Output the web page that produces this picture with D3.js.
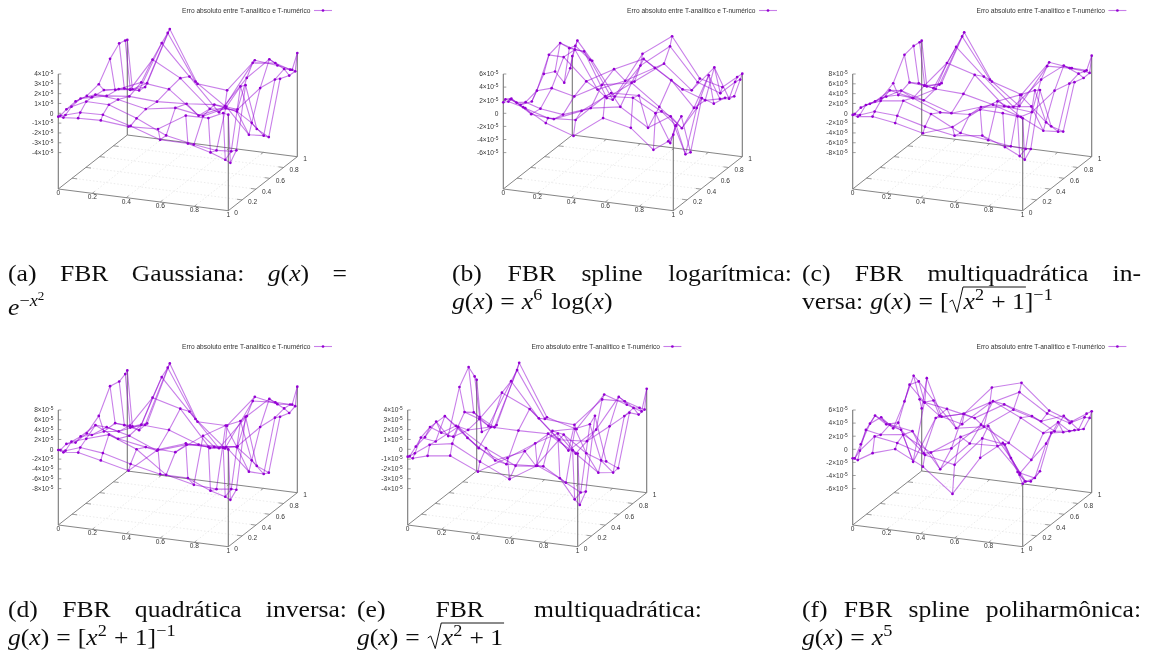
<!DOCTYPE html>
<html>
<head>
<meta charset="utf-8">
<script src="https://d3js.org/d3.v7.min.js"></script>
<style>
  html, body { margin: 0; padding: 0; background: #fff; }
  svg { display: block; }
  .tick { font-family: "Liberation Sans", sans-serif; font-size: 6.6px; fill: #333; }
  .cap { font-family: "Liberation Serif", serif; fill: #111; }
</style>
</head>
<body>
<svg width="1158" height="656"></svg>
<script>
var width = 1158;
var height = 656;

// grid nodes, the same along x and y
var nodes = [0, 0.03, 0.117, 0.25, 0.413, 0.587, 0.75, 0.883, 0.97, 1];
var xTicks = [0, 0.2, 0.4, 0.6, 0.8, 1];
var yTicks = [0, 0.2, 0.4, 0.6, 0.8, 1];
var legendText = 'Erro absoluto entre T-analítico e T-numérico';

// z tick marks, in units of 10^-5
var zTicks4 = [4, 3, 2, 1, 0, -1, -2, -3, -4];
var zTicks6 = [6, 4, 2, 0, -2, -4, -6];
var zTicks8 = [8, 6, 4, 2, 0, -2, -4, -6, -8];

// error values in units of 10^-5, one row per y node
var zGauss = [
  [-.34,-.37,-.24,-.17,-.44,-.3,1.42,1.46,2.17,2.07],
  [-.41,-.27,.17,.24,-.54,-1.56,-1.59,-2.2,-2.75,-3],
  [-.24,.1,.81,.78,-.24,-1.6,-2.17,-2.47,-2.37,-2.2],
  [-.17,.2,.78,.58,-.03,.47,0,1.1,3.5,3.7],
  [-.5,-.58,-.24,0,-.17,0,.27,-.13,-1.1,-1.66],
  [-.27,-.8,-.5,.47,.14,-2.17,-.9,-3.46,-3.36,-3.44],
  [1.42,-1.66,-1.46,1.9,.37,-2.37,-2.07,.4,1.46,1.6],
  [2.27,-2.24,-2.27,2.85,-.2,-3.46,.4,2.6,1.8,1.2],
  [2.07,-2.88,-2.4,3.4,-1.19,-3.3,1.46,1.73,1.25,1.15],
  [1.97,-2.98,-2.17,3.63,-1.59,-1.86,1.56,1.32,1.08,2.85]
];
var zSplineLog = [
  [1.68,1.89,1.33,-.66,-2.09,1.22,.26,-2.65,-1.07,.05],
  [1.89,1.99,.92,-.15,.1,4.29,4.6,2.7,-1.58,1.17],
  [1.27,.77,-.71,-1.02,.77,4.08,4.23,2.24,.36,1.89],
  [-.77,-.26,-.97,-1.43,.1,.87,-1.79,.41,-5.1,-4.7],
  [-1.6,.15,.82,0,2.3,3.2,.05,-2.76,.6,2.24],
  [1.17,4.18,4.13,.87,3.27,5.4,2.7,-1.1,4.18,-.05],
  [.2,4.64,3.93,-1.73,.15,2.7,-.05,-1.28,-.77,-.5],
  [-2.6,2.76,2.55,-4.13,-1.07,2.24,-1.28,2.65,-1.84,-1.38],
  [-1.12,2.4,.56,-5.1,.66,4.18,-.77,-2,0,.46],
  [.5,2.96,.15,-4.85,2.2,5.46,-.46,-1.33,.5,1.12]
];
var zMultiInv = [
  [-.34,-.54,-.14,-.88,-2.24,-.2,4.07,3.93,3.66,3.4],
  [-.47,-.54,.54,.27,-1.22,-2.3,-1.56,-3.3,-4.75,-5.36],
  [-.14,.54,1.76,2.37,.4,-2.7,-3.46,-4.1,-4.27,-4.14],
  [-.81,-.2,2.44,1.5,-.75,-.4,3,4.9,6.2,6.4],
  [-1.5,-1,.6,-.8,-2.7,-.68,.07,.75,-2.1,-2.78],
  [-.34,-2.6,-2.85,-.4,-.68,-2.1,-3.86,-6.1,-5.9,-5.76],
  [3.66,-1.83,-2.1,3.1,1.42,-4.2,-4.7,.27,2.1,2.5],
  [4,-3.46,-4.07,4.9,-.4,-5.8,.47,3.9,2.64,1.9],
  [3.8,-4.9,-4.3,6.1,-2,-6.6,2.24,2.44,2.17,1.97],
  [3.8,-5.4,-4.34,6.6,-2.7,-4.6,2.7,2.1,2.03,5.15]
];
var zQuadInv = [
  [-.14,-.48,-.14,-1.16,-2.53,2.53,4.5,4.4,4.6,4.4],
  [-.48,-.48,.55,0,-1.5,-2.8,-2.88,-4.86,-5.7,-6.2],
  [-.2,.4,1.37,2.8,.55,-3.9,-5.2,-5.5,-5.1,-5.1],
  [-1.37,0,2.67,.48,-.48,-.75,3.3,6,7.3,8.3],
  [-1.3,-1.5,.48,-.68,-3,-1,-.75,-.2,-2.5,-3.5],
  [.34,-2.7,-2.3,-.34,-.68,-2.9,-2.67,-7.1,-7.2,-6.8],
  [4.6,-2.8,-2.9,3.36,1.85,-5.4,-4.3,.2,2.47,2.8],
  [4.1,-4.66,-5.3,6.1,-.2,-6.9,.34,4.45,2.9,2.1],
  [4.66,-6.1,-5.2,7.05,-2.67,-7.9,2.47,2.8,2.74,2.53],
  [5.07,-6.2,-5.2,7.6,-3.56,-3.6,3,2.1,2.4,6.17]
];
var zMulti = [
  [-.75,-.85,-.41,-.1,-1.37,.41,2.26,3.56,2.05,1.78],
  [-.85,-.51,.55,.96,-.51,-1.91,-.17,-1.16,-3.11,-3.62],
  [-.38,.62,.41,2.19,.38,-1.03,-.72,-2.09,-2.9,-2.74],
  [-.14,.96,2.26,.34,-1.6,-.27,2.15,2.67,3.32,4.24],
  [.55,-.51,.38,-1.6,-2.87,-2.67,.89,-.72,-1.26,-1.3],
  [-1.88,-1.88,-1,-.41,-.41,-.34,-2,-3.66,-3.45,-2.94],
  [2.22,-.27,-.79,2.19,.89,-1.85,-1.64,.17,1.4,1.81],
  [3.52,-1.03,-2.22,2.63,-.79,-3.69,-1.2,2.43,1.5,.89],
  [2.09,-2,-2.84,3.28,-1.33,-1.54,1.4,1.5,1.03,.92],
  [1.57,-3.66,-2.77,3.86,-1.33,-2.15,1.74,.99,.5,2.87]
];
var zPoly = [
  [-1.38,-1.54,-.2,.87,-1.28,-4.87,1.18,3.9,-.25,-1.95],
  [-1.64,-.36,2.1,1.54,.26,-.67,3.9,3.4,-.92,-1.85],
  [-.2,2.1,1.64,2.1,-.1,2.87,5.08,.62,-2.67,-2.56],
  [1.85,3.18,2.1,1.54,-3.74,.77,.92,-2.77,-3.23,-2.1],
  [1.49,.51,-.05,-3.18,-1.9,2.3,.05,-2.1,.67,2.41],
  [-1.64,-.67,-6.36,.77,1.95,4.46,2.46,.56,2.51,1.08],
  [1.13,3.79,1.38,.82,-.05,2.62,1.38,-.51,-.2,.05],
  [3.95,3.18,.56,-3.23,-2.46,.72,-.51,.77,-1.08,-.87],
  [-.36,-.77,-2.5,-3.33,.41,2.67,-.05,-1.08,.1,.1],
  [-2,2.72,-2.87,-2,2.56,3.85,.15,-1.08,.41,.87]
];

var panels = [
  {z: zGauss,     ticks: zTicks4, ox: 58.3,  oy: 189, legendY: 10.5},
  {z: zSplineLog, ticks: zTicks6, ox: 503.3, oy: 189, legendY: 10.5},
  {z: zMultiInv,  ticks: zTicks8, ox: 852.7, oy: 189, legendY: 10.5},
  {z: zQuadInv,   ticks: zTicks8, ox: 58.3,  oy: 525, legendY: 346.5},
  {z: zMulti,     ticks: zTicks4, ox: 407.7, oy: 525, legendY: 346.5},
  {z: zPoly,      ticks: zTicks6, ox: 852.7, oy: 525, legendY: 346.5}
];

var wireColor = '#9400d3';

var svg = d3.select('svg');
var defs = svg.append('defs');
defs.append('filter').attr('id', 'soft')
    .append('feGaussianBlur').attr('stdDeviation', 0.4);
defs.append('filter').attr('id', 'softCap')
    .append('feGaussianBlur').attr('stdDeviation', 0.3);

// oblique view of the unit square
var xAcross = d3.scaleLinear().domain([0, 1]).range([0, 170]);
var xDown = d3.scaleLinear().domain([0, 1]).range([0, 21.7]);
var yAcross = d3.scaleLinear().domain([0, 1]).range([0, 69]);
var yDown = d3.scaleLinear().domain([0, 1]).range([0, -54]);

function drawPanel(p) {
  var g = svg.append('g').attr('filter', 'url(#soft)');
  var zTop = d3.max(p.ticks);
  var zScale = d3.scaleLinear().domain([0, zTop]).range([-75.7, -115]);
  var sx = (x, y) => p.ox + xAcross(x) + yAcross(y);
  var floorY = (x, y) => p.oy + xDown(x) + yDown(y);
  var sy = (x, y, z) => floorY(x, y) + zScale(z);

  function seg(x1, y1, x2, y2, stroke, w, dash) {
    g.append('line')
      .attr('x1', sx(x1, y1)).attr('y1', floorY(x1, y1))
      .attr('x2', sx(x2, y2)).attr('y2', floorY(x2, y2))
      .attr('stroke', stroke).attr('stroke-width', w)
      .attr('stroke-dasharray', dash || null);
  }

  // floor grid
  xTicks.slice(1, -1).forEach(t => seg(t, 0, t, 1, '#ddd', 0.6, '1.5,2'));
  yTicks.slice(1, -1).forEach(t => seg(0, t, 1, t, '#ddd', 0.6, '1.5,2'));

  // floor border
  seg(0, 0, 1, 0, '#777', 0.9);
  seg(1, 0, 1, 1, '#777', 0.9);
  seg(0, 0, 0, 1, '#777', 0.9);
  seg(0, 1, 1, 1, '#777', 0.9);
  xTicks.slice(1, -1).forEach(t => {
    seg(t, 0, t, 0.035, '#777', 0.7);
    seg(t, 1, t, 0.965, '#777', 0.7);
  });
  yTicks.slice(1, -1).forEach(t => {
    seg(0, t, 0.03, t, '#777', 0.7);
    seg(1, t, 0.97, t, '#777', 0.7);
  });

  // verticals: full z axis at the origin, up to the surface at the other corners
  var last = nodes.length - 1;
  var corners = [[0, 0, zTop], [1, 0, p.z[0][last]], [0, 1, p.z[last][0]], [1, 1, p.z[last][last]]];
  corners.forEach(c => {
    g.append('line')
      .attr('x1', sx(c[0], c[1])).attr('y1', floorY(c[0], c[1]))
      .attr('x2', sx(c[0], c[1])).attr('y2', sy(c[0], c[1], c[2]))
      .attr('stroke', '#777').attr('stroke-width', 1.1);
  });

  // z ticks and labels
  p.ticks.forEach(t => {
    g.append('line')
      .attr('x1', p.ox).attr('x2', p.ox + 3)
      .attr('y1', sy(0, 0, t)).attr('y2', sy(0, 0, t))
      .attr('stroke', '#777').attr('stroke-width', 0.7);
    var label = g.append('text').attr('class', 'tick')
      .attr('text-anchor', 'end')
      .attr('x', p.ox - 5).attr('y', sy(0, 0, t) + 2.3);
    if (t === 0) {
      label.text('0');
    } else {
      label.append('tspan').text((t < 0 ? '-' : '') + Math.abs(t) + '×10');
      label.append('tspan').attr('dy', -2).style('font-size', '4.8px').text('-5');
    }
  });

  // x and y tick labels
  xTicks.forEach(t => {
    g.append('text').attr('class', 'tick')
      .attr('text-anchor', 'middle')
      .attr('x', sx(t, 0)).attr('y', floorY(t, 0) + 6)
      .text(t);
  });
  yTicks.forEach(t => {
    g.append('text').attr('class', 'tick')
      .attr('x', sx(1, t) + 6).attr('y', floorY(1, t) + 4.5)
      .text(t);
  });

  // wireframe, lines along x then along y
  var points = p.z.map((row, j) => row.map((z, i) => [sx(nodes[i], nodes[j]), sy(nodes[i], nodes[j], z)]));
  var line = d3.line();
  var wire = g.append('g')
    .attr('fill', 'none').attr('stroke', wireColor)
    .attr('stroke-width', 1.1).attr('stroke-opacity', 0.5);
  points.forEach(row => wire.append('path').attr('d', line(row)));
  nodes.forEach((n, i) => wire.append('path').attr('d', line(points.map(row => row[i]))));

  g.append('g').selectAll('circle')
    .data(points.flat())
    .enter()
    .append('circle')
    .attr('cx', d => d[0]).attr('cy', d => d[1])
    .attr('r', 1.35).attr('fill', wireColor);

  // legend
  var lineEnd = p.ox + 273.7;
  g.append('text').attr('class', 'tick')
    .attr('text-anchor', 'end')
    .attr('x', lineEnd - 21.5).attr('y', p.legendY + 2.2)
    .text(legendText);
  g.append('line')
    .attr('x1', lineEnd - 18).attr('x2', lineEnd)
    .attr('y1', p.legendY).attr('y2', p.legendY)
    .attr('stroke', wireColor).attr('stroke-width', 1.1).attr('stroke-opacity', 0.5);
  g.append('circle')
    .attr('cx', lineEnd - 9).attr('cy', p.legendY)
    .attr('r', 1.35).attr('fill', wireColor);
}

panels.forEach(drawPanel);

// caption text: a word is a list of runs, i = italic, s = raised size, d = raise
var capSize = 22.5;
var stretch = 1.14;

function run(g, x, y, r) {
  var size = r.s || capSize;
  var t = g.append('text').attr('class', 'cap')
    .attr('transform', `translate(${x},${y - (r.d || 0)}) scale(${stretch},1)`)
    .style('font-size', size + 'px')
    .style('font-style', r.i ? 'italic' : 'normal')
    .text(r.t);
  return t.node().getComputedTextLength() * stretch + (r.g || 0);
}

function word(g, x, y, runs) {
  var cur = x;
  runs.forEach(r => {
    if (r.root) {
      var start = cur;
      cur += 15;
      cur = word(g, cur, y, r.root);
      g.append('path')
        .attr('d', `M${start + 1},${y - 7} l3,-2 l4.5,12.5 l6,-25.5 H${cur + 1}`)
        .attr('fill', 'none').attr('stroke', '#111').attr('stroke-width', 1);
    } else {
      cur += run(g, cur, y, r);
    }
  });
  return cur;
}

var gx = [{t: 'g', i: 1}, {t: '('}, {t: 'x', i: 1}, {t: ')'}];
var eq = [{t: '='}];
var T = s => [{t: s}];
var sup = s => ({t: s, s: 16, d: 9, g: 2});

var rootBody = [{t: 'x', i: 1}, sup('2'), {t: '\u2009+\u00a01'}];

// each line: start, justified end (or none), baseline, word gap, words
var capLines = [
  {x: 8, end: 347, y: 281, words: [T('(a)'), T('FBR'), T('Gaussiana:'), gx, eq]},
  {x: 8, y: 315, words: [[{t: 'e', i: 1}, {t: '−', s: 16, d: 9}, {t: 'x', s: 16, d: 9, i: 1}, {t: '2', s: 11.5, d: 15}]]},
  {x: 452, end: 792, y: 281, words: [T('(b)'), T('FBR'), T('spline'), T('logarítmica:')]},
  {x: 452, y: 309, gap: 7, words: [gx, eq, [{t: 'x', i: 1}, sup('6')], [{t: 'log('}, {t: 'x', i: 1}, {t: ')'}]]},
  {x: 802, end: 1141, y: 281, words: [T('(c)'), T('FBR'), T('multiquadrática'), T('in-')]},
  {x: 802, y: 309, gap: 7, words: [T('versa:'), gx, eq, [{t: '['}, {root: rootBody}, {t: ']'}, sup('−1')]]},
  {x: 8, end: 347, y: 617, words: [T('(d)'), T('FBR'), T('quadrática'), T('inversa:')]},
  {x: 8, y: 645, gap: 7, words: [gx, eq, [{t: '['}, {t: 'x', i: 1}, sup('2'), {t: '\u2009+\u00a01]'}, sup('−1')]]},
  {x: 357, end: 702, y: 617, words: [T('(e)'), T('FBR'), T('multiquadrática:')]},
  {x: 357, y: 645, gap: 7, words: [gx, eq, [{root: rootBody}]]},
  {x: 802, end: 1141, y: 617, words: [T('(f)'), T('FBR'), T('spline'), T('poliharmônica:')]},
  {x: 802, y: 645, gap: 7, words: [gx, eq, [{t: 'x', i: 1}, sup('5')]]}
];

var capLayer = svg.append('g').attr('filter', 'url(#softCap)');

capLines.forEach(l => {
  var gap = l.gap || 0;
  if (l.end) {
    // measure offscreen first, then spread the words across the column
    var probe = svg.append('g').attr('opacity', 0);
    var total = d3.sum(l.words, w => word(probe, 0, 0, w));
    probe.remove();
    gap = (l.end - l.x - total) / (l.words.length - 1);
  }
  var cur = l.x;
  l.words.forEach(w => {
    cur = word(capLayer, cur, l.y, w) + gap;
  });
});
</script>
</body>
</html>
